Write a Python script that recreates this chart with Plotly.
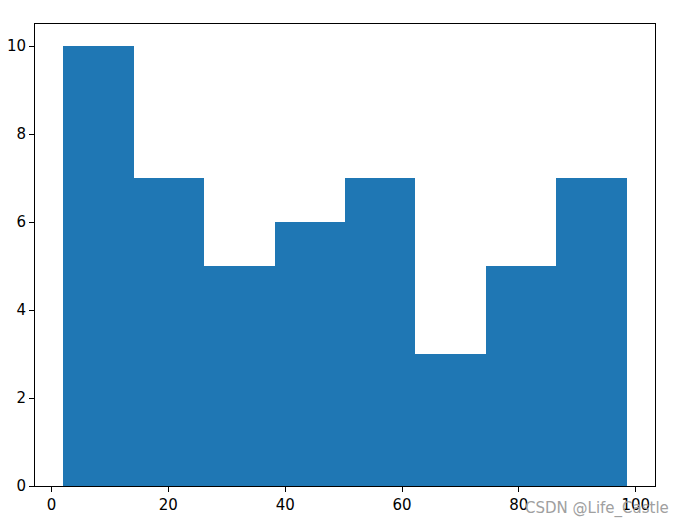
import plotly.graph_objects as go

# histogram: 8 bins
bin_edges = [2.0, 14.06, 26.12, 38.18, 50.24, 62.3, 74.36, 86.42, 98.48]
counts = [10, 7, 5, 6, 7, 3, 5, 7]
x_ticks = [0, 20, 40, 60, 80, 100]
y_ticks = [0, 2, 4, 6, 8, 10]

centers = [(a + b) / 2 for a, b in zip(bin_edges[:-1], bin_edges[1:])]
widths = [b - a for a, b in zip(bin_edges[:-1], bin_edges[1:])]

fig = go.Figure()

fig.add_trace(
    go.Bar(
        x=centers,
        y=counts,
        width=widths,
        marker=dict(color="#1f77b4", line=dict(width=0)),
        hoverinfo="skip",
    )
)

span = bin_edges[-1] - bin_edges[0]

AXIS = dict(
    showline=True,
    linecolor="black",
    linewidth=1,
    mirror=True,
    showgrid=False,
    zeroline=False,
    ticks="outside",
    ticklen=5,
    tickwidth=1,
    tickcolor="black",
    automargin=False,
)

# page body adds 8px offset, margins compensate for it
fig.update_layout(
    width=686,
    height=526,
    margin=dict(l=27, r=39, t=16, b=48),
    paper_bgcolor="white",
    plot_bgcolor="white",
    font=dict(family="DejaVu Sans", size=15, color="black"),
    showlegend=False,
    bargap=0,
    xaxis=dict(
        range=[bin_edges[0] - 0.05 * span, bin_edges[-1] + 0.05 * span],
        tickvals=x_ticks,
        **AXIS,
    ),
    yaxis=dict(
        range=[0, max(counts) * 1.05],
        tickvals=y_ticks,
        **AXIS,
    ),
    annotations=[
        dict(
            text="CSDN @Life_Castle",
            xref="paper",
            yref="paper",
            x=1,
            y=0,
            xanchor="right",
            yanchor="middle",
            xshift=16,
            yshift=-22,
            showarrow=False,
            font=dict(family="DejaVu Sans", size=15, color="#a0a0a0"),
        )
    ],
)

fig.write_html("out.html")
